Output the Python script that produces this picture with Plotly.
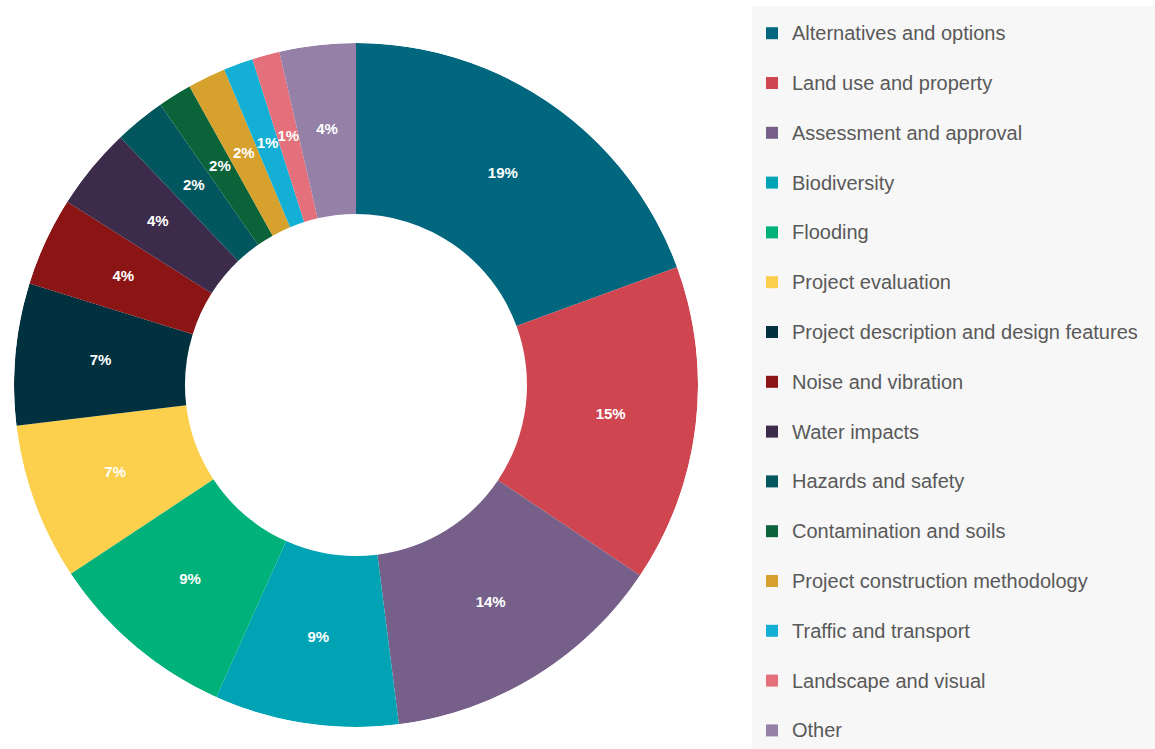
import numpy as np
import plotly.graph_objects as go

categories = [
    "Alternatives and options",
    "Land use and property",
    "Assessment and approval",
    "Biodiversity",
    "Flooding",
    "Project evaluation",
    "Project description and design features",
    "Noise and vibration",
    "Water impacts",
    "Hazards and safety",
    "Contamination and soils",
    "Project construction methodology",
    "Traffic and transport",
    "Landscape and visual",
    "Other",
]
# shares (%)
shares = [19.4, 15.0, 13.6, 8.7, 9.0, 7.4, 6.7, 4.2, 3.9, 2.4, 1.6, 1.8, 1.4, 1.3, 3.6]
colors = [
    "#00677f", "#cf4650", "#76608a", "#00a3b4", "#00b27a",
    "#fcd04c", "#01303f", "#8b1515", "#3d2b4b", "#02565e",
    "#0b6339", "#d6a12d", "#14afd4", "#e3707a", "#9580a8",
]

W, H = 1155, 749
HOLE = 0.5
dom = dict(x=[12 / W, 700 / W], y=[1 - 727 / H, 1 - 43 / H])

vals = np.array(shares, dtype=float)
frac = vals / vals.sum()
mid_theta = (np.cumsum(frac) - frac / 2) * 360.0
width_deg = frac * 360.0
pct_text = [f"{int(np.floor(p * 100 + 0.5))}%" for p in frac]

fig = go.Figure()
n = len(categories)
for i in range(n):
    name = "<span style='font-size:20px'>" + categories[i] + "</span>"
    if i < n - 1:
        name += "<br> "
    fig.add_trace(go.Barpolar(
        name=name,
        theta=[mid_theta[i]],
        width=[width_deg[i]],
        r=[1 - HOLE],
        base=[HOLE],
        marker=dict(color=colors[i], line=dict(width=0)),
        hovertext=[categories[i]],
        hoverinfo="text",
    ))

# percentage labels in the middle of the ring
fig.add_trace(go.Scatterpolar(
    r=[(1 + HOLE) / 2] * n,
    theta=mid_theta,
    mode="text",
    text=pct_text,
    textfont=dict(family="Liberation Sans", size=15, color="white", weight="bold"),
    showlegend=False,
    hoverinfo="skip",
))

fig.update_layout(
    width=W, height=H,
    margin=dict(l=0, r=0, t=0, b=0),
    paper_bgcolor="white",
    plot_bgcolor="white",
    polar=dict(
        domain=dom,
        bgcolor="rgba(0,0,0,0)",
        hole=0,
        bargap=0,
        radialaxis=dict(visible=False, range=[0, 1], showgrid=False),
        angularaxis=dict(visible=False, rotation=90, direction="clockwise", showgrid=False),
    ),
    showlegend=True,
    legend=dict(
        x=752 / W, xanchor="left",
        y=1 - 18 / H, yanchor="top",
        bgcolor="rgba(0,0,0,0)",
        font=dict(family="Liberation Sans", size=18, color="#595959"),
        valign="top",
        traceorder="normal",
    ),
    shapes=[dict(
        type="rect", xref="paper", yref="paper", layer="below",
        x0=752 / W, x1=1, y0=0, y1=1 - 6 / H,
        fillcolor="#f7f7f7", line=dict(width=0),
    )],
)

fig.write_html("out.html")
